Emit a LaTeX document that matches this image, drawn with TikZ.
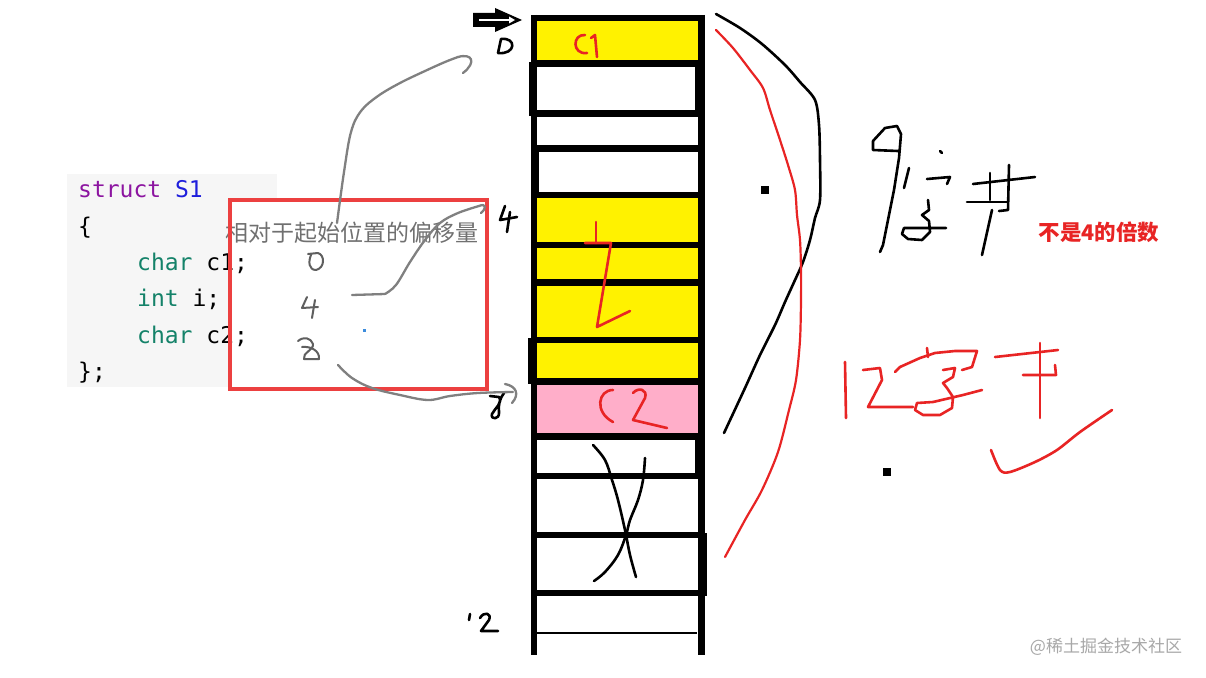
\documentclass[tikz,border=0pt]{standalone}
\usepackage{fontspec}
\newfontfamily\cjk{Noto Sans CJK SC}
\newfontfamily\codefont{DejaVu Sans Mono}
\definecolor{cellyellow}{RGB}{255,242,0}
\definecolor{cellpink}{RGB}{255,174,201}
\definecolor{inkred}{RGB}{232,36,36}
\definecolor{boxred}{RGB}{236,64,64}
\definecolor{arrowgray}{RGB}{128,128,128}
\definecolor{digitgray}{RGB}{95,95,95}
\definecolor{titlegray}{RGB}{112,112,112}
\definecolor{codebg}{RGB}{246,246,246}
\definecolor{kwpurple}{RGB}{140,20,160}
\definecolor{kwblue}{RGB}{30,30,220}
\definecolor{kwteal}{RGB}{20,130,105}
\definecolor{wmgray}{RGB}{168,168,168}
\definecolor{dotblue}{RGB}{60,140,220}
\begin{document}
\begin{tikzpicture}[x=1pt,y=-1pt,
  hand/.style={line width=2.6pt,line cap=round,line join=round},
  grayhand/.style={hand,draw=arrowgray,line width=2.3pt},
  redhand/.style={hand,draw=inkred},
  blackhand/.style={hand,draw=black},
  digithand/.style={hand,draw=digitgray,line width=2pt},
  divider/.style={line width=6.5pt,draw=black},
  codeline/.style={anchor=base west,inner sep=0pt,font=\codefont\fontsize{23}{23}\selectfont}]
\useasboundingbox (0,0) rectangle (1206,677);
\fill[white] (0,0) rectangle (1206,677);

% ---------- code block ----------
\fill[codebg] (67,174) rectangle (277,387);
\fill[white] (230,200) rectangle (487,389);
\node[codeline] (l1) at (78,197) {\color{kwpurple}struct \color{kwblue}S1};
\node[codeline] (l2) at (78,234) {\{};
\node[codeline] (l3) at (137,270) {\color{kwteal}char \color{black}c1;};
\node[codeline] (l4) at (137,306.5) {\color{kwteal}int \color{black}i;};
\node[codeline] (l5) at (137,343) {\color{kwteal}char \color{black}c2;};
\node[codeline] (l6) at (78,379.5) {\};};
\node[font=\cjk\fontsize{23}{23}\selectfont,text=titlegray,inner sep=0pt] (title) at (351.5,233) {相对于起始位置的偏移量};
\draw[boxred,line width=4pt] (230,200) rectangle (487,389);
\fill[dotblue] (363,329) rectangle (366,332);

% handwritten offsets inside box
\draw[digithand] (308,254) -- (318,253) .. controls (325,255) and (325,268) .. (316,270) .. controls (309,270) and (308,262) .. (311,255);
\draw[digithand] (307,297) -- (302,308) -- (318,307);
\draw[digithand] (315,300) -- (312,318);
\draw[digithand] (298,341) .. controls (304,336) and (311,338) .. (313,344) .. controls (314,350) and (302,353) .. (304,359) -- (319,359) .. controls (320,351) and (311,346) .. (302,347);

% ---------- memory column ----------
\fill[cellyellow] (534,18) rectangle (701,63);
\fill[cellyellow] (534,195) rectangle (701,382);
\fill[cellpink] (534,382) rectangle (701,437);
\foreach \yy in {63.5,113.5,148.5,195,245,282.5,340,381.5,436.5,476,535,593}
  \draw[divider] (534,\yy) -- (701,\yy);
\draw[line width=6pt] (531,18) -- (705,18);
\draw[line width=6pt] (534,15) -- (534,655);
\draw[line width=7pt] (701.5,15) -- (701.5,655);
\fill[black] (529,62) rectangle (532,116);
\fill[black] (528,338) rectangle (532,384);
\fill[black] (535,150) rectangle (539,193);
\fill[black] (695,66) rectangle (699,111);
\fill[black] (695,440) rectangle (699,474);
\fill[black] (704,533) rectangle (707,596);
\draw[line width=1.4pt] (537,633) -- (697,633);

% start arrow
\node[inner sep=0pt,minimum size=0pt] (startarrow) at (497,20) {};
\fill[black] (473,13) -- (495,13) -- (495,8) -- (522,20) -- (495,32) -- (495,27) -- (473,27) -- cycle;
\draw[white,line width=2pt] (479,20) -- (510,20);
\fill[white] (509,16.5) -- (515,20) -- (509,23.5) -- cycle;

% row labels
\draw[blackhand] (498,53) -- (501,39) .. controls (517,37) and (516,55) .. (498,53);
\draw[blackhand] (505,206) -- (500,220) -- (517,217);
\draw[blackhand] (510,212) -- (507,232);
\draw[blackhand] (490,396) -- (499,397) .. controls (503,403) and (495,408) .. (492,414) .. controls (490,420) and (500,420) .. (499,412) .. controls (498,405) and (500,398) .. (504,393);
\draw[blackhand] (470,614) -- (469,620);
\draw[blackhand] (480,618) .. controls (484,611) and (492,613) .. (489,620) -- (481,631) -- (498,631);

% red cell labels
\draw[redhand] (585,35) .. controls (572,34) and (572,55) .. (587,53);
\draw[redhand] (591,38) -- (595,35) -- (597,57);
\draw[redhand] (596,222) -- (596,243);
\draw[redhand] (585,243) -- (611,243) -- (597,327) -- (630,311);
\draw[redhand] (613,390) .. controls (598,390) and (594,412) .. (613,422);
\draw[redhand] (633,393) .. controls (638,387) and (648,389) .. (645,398) -- (633,420) -- (667,428);

% cross in empty cells
\draw[blackhand] plot[smooth,tension=0.6] coordinates {(593,445) (605,460) (612,480) (618,500) (625,530) (630,555) (636,577)};
\draw[blackhand] plot[smooth,tension=0.6] coordinates {(645,458) (643,480) (638,500) (630,520) (626,535) (618,555) (605,572) (594,581)};

% ---------- gray connectors ----------
\coordinate (c0) at (337,223);
\coordinate (t0) at (458,57);
\coordinate (c4) at (352,295);
\coordinate (t4) at (479,206);
\coordinate (c8) at (338,365);
\coordinate (t8) at (513,392);
\draw[grayhand] plot[smooth,tension=0.6] coordinates {(c0) (344,172) (351,132) (361,111) (378,96) (400,83) (425,71) (445,62) (t0)};
\draw[grayhand] (t0) .. controls (472,53) and (477,62) .. (463,73);
\draw[grayhand] (c4) -- (385,294);
\draw[grayhand] plot[smooth,tension=0.6] coordinates {(385,294) (396,285) (410,262) (425,240) (440,223) (458,213) (t4)};
\draw[grayhand] (t4) .. controls (486,203) and (487,208) .. (481,213);
\draw[grayhand] plot[smooth,tension=0.6] coordinates {(c8) (352,378) (372,388) (400,395) (428,400) (450,396) (478,393) (t8)};
\draw[grayhand] (505,384) .. controls (516,386) and (520,394) .. (512,403);

% ---------- right side ----------
\draw[blackhand] plot[smooth,tension=0.5] coordinates {(716,14) (740,28) (762,44) (785,65) (800,82) (815,100) (819,125) (820,160) (820,200) (815,218) (810,240) (803,262) (795,280) (785,302) (775,325) (760,355) (745,388) (724,433)};
\draw[redhand,line width=2.2pt] plot[smooth,tension=0.5] coordinates {(716,30) (733,48) (750,70) (763,88) (770,110) (780,140) (788,165) (795,190) (797,215) (800,240) (801,270) (801,300) (800,340) (796,380) (789,410) (778,452) (762,490) (745,520) (725,557)};
\fill[black] (761,186) rectangle (769,194);
\fill[black] (883,468) rectangle (891,476);

% black handwriting
\draw[blackhand] (898,151) -- (873,150) -- (873,141) -- (885,128) -- (897,126) -- (901,134) -- (899,158) -- (894,190) -- (887,225) -- (883,245) -- (880,252);
\draw[blackhand] (940,151) -- (942,153);
\draw[blackhand] (909,168) -- (904,188);
\draw[blackhand] (927,179) -- (950,177) -- (947,184);
\draw[blackhand] (928,200) -- (929,210) -- (922,215) -- (929,221) -- (930,232) -- (922,240) -- (908,239) -- (902,234) -- (904,228) -- (946,228);
\draw[blackhand] (973,184) -- (1035,177);
\draw[blackhand] (990,173) -- (990,200);
\draw[blackhand] (1009,165) -- (1008,210) -- (999,211);
\draw[blackhand] (967,202) -- (1007,202);
\draw[blackhand] (992,210) -- (982,255);

\node[font=\cjk\bfseries\fontsize{21.5}{21.5}\selectfont,text=inkred,inner sep=0pt] (note) at (1099,232) {不是4的倍数};

% red handwriting
\draw[redhand] (845,362) -- (846,418);
\draw[redhand] (863,370) -- (880,368) -- (882,380) -- (868,407) -- (913,407);
\draw[redhand] (895,372) -- (900,367) -- (920,358) -- (935,353) -- (955,351) -- (977,351) -- (972,367) -- (962,370);
\draw[redhand] (927,348) -- (928,357);
\draw[redhand] (943,370) -- (955,368) -- (953,377) -- (943,383) -- (947,388) -- (953,397) -- (952,408) -- (940,415) -- (923,415) -- (915,410) -- (917,403) -- (933,402) -- (963,395) -- (982,390);
\draw[redhand] (995,357) -- (1058,350);
\draw[redhand] (1040,343) -- (1040,418);
\draw[redhand] (1023,375) -- (1056,375) -- (1055,365);
\draw[redhand] plot[smooth,tension=0.5] coordinates {(991,450) (1000,470) (1010,472) (1035,462) (1057,450) (1080,432) (1112,410)};

\node[font=\cjk\fontsize{17}{17}\selectfont,text=wmgray,inner sep=0pt] (wm) at (1106,647) {@稀土掘金技术社区};
\end{tikzpicture}
\end{document}
